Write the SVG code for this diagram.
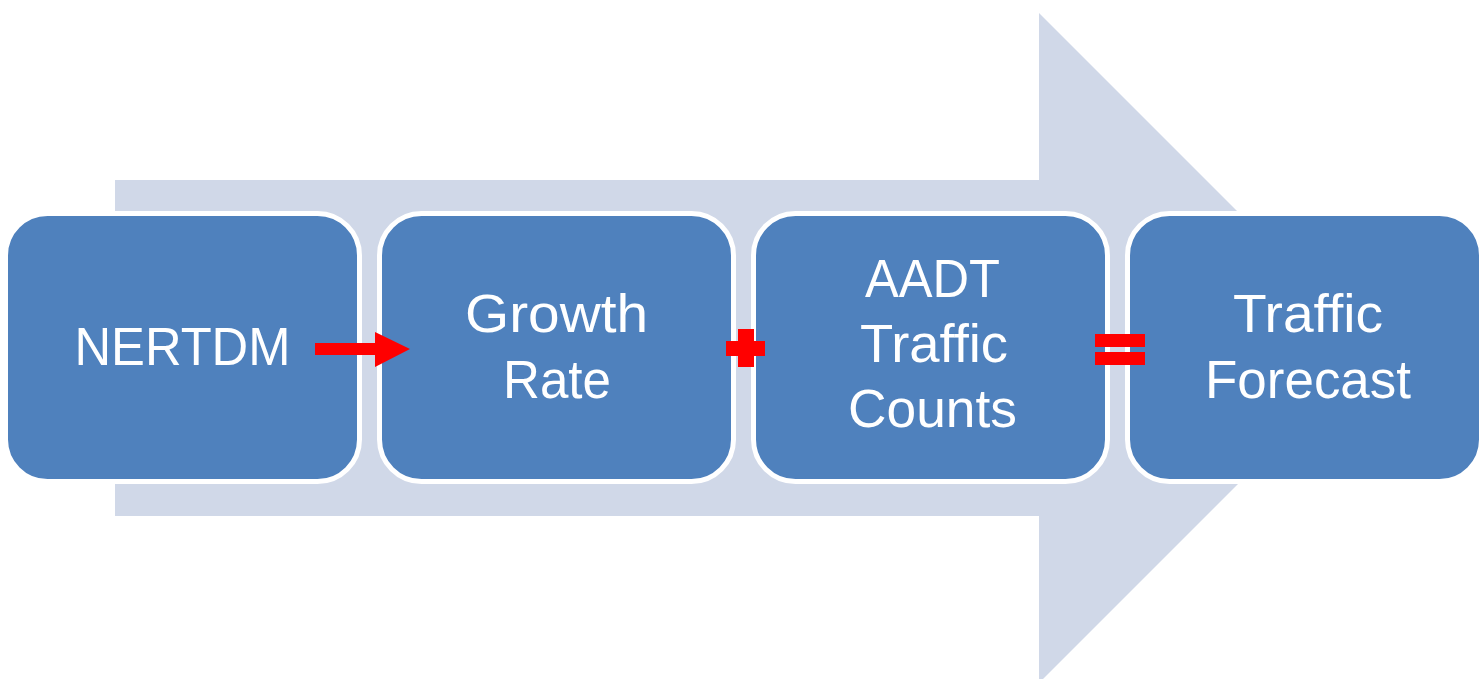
<svg xmlns="http://www.w3.org/2000/svg" width="1483" height="679" viewBox="0 0 1483 679">
  <style>
    .box { fill: #4F81BD; stroke: #FFFFFF; stroke-width: 5; }
    .label { font-family: "Liberation Sans", Arial, sans-serif; font-size: 54px; fill: #FFFFFF; text-anchor: middle; }
    .op { fill: #FF0000; }
  </style>
  <rect width="1483" height="679" fill="#FFFFFF"/>

  <!-- background process arrow -->
  <polygon id="process-arrow" fill="#D0D8E8"
           points="115,180 1039,180 1039,13 1374,348 1039,683 1039,516 115,516"/>

  <g id="node-nertdm">
    <rect class="box" x="5.5" y="213.5" width="354" height="268" rx="42"/>
    <text class="label" x="182.5" y="365" textLength="216" lengthAdjust="spacingAndGlyphs">NERTDM</text>
  </g>

  <g id="node-growth-rate">
    <rect class="box" x="379.5" y="213.5" width="354" height="268" rx="42"/>
    <text class="label" x="556.5" y="332" textLength="183" lengthAdjust="spacingAndGlyphs">Growth</text>
    <text class="label" x="557" y="398" textLength="108" lengthAdjust="spacingAndGlyphs">Rate</text>
  </g>

  <g id="node-aadt">
    <rect class="box" x="753.5" y="213.5" width="354" height="268" rx="42"/>
    <text class="label" x="932.5" y="297" textLength="135" lengthAdjust="spacingAndGlyphs">AADT</text>
    <text class="label" x="934" y="362" textLength="148" lengthAdjust="spacingAndGlyphs">Traffic</text>
    <text class="label" x="932.5" y="427" textLength="169" lengthAdjust="spacingAndGlyphs">Counts</text>
  </g>

  <g id="node-forecast">
    <rect class="box" x="1127.5" y="213.5" width="354" height="268" rx="42"/>
    <text class="label" x="1308" y="332" textLength="150" lengthAdjust="spacingAndGlyphs">Traffic</text>
    <text class="label" x="1308" y="398" textLength="206" lengthAdjust="spacingAndGlyphs">Forecast</text>
  </g>

  <g id="connectors">
    <!-- arrow: NERTDM to Growth Rate -->
    <polygon class="op" points="315,343 375,343 375,332 410,349 375,367 375,355 315,355"/>
    <!-- plus -->
    <rect class="op" x="738" y="329" width="16" height="38"/>
    <rect class="op" x="726" y="341" width="39" height="15"/>
    <!-- equals -->
    <rect class="op" x="1095" y="334" width="50" height="13"/>
    <rect class="op" x="1095" y="352" width="50" height="13"/>
  </g>
</svg>
